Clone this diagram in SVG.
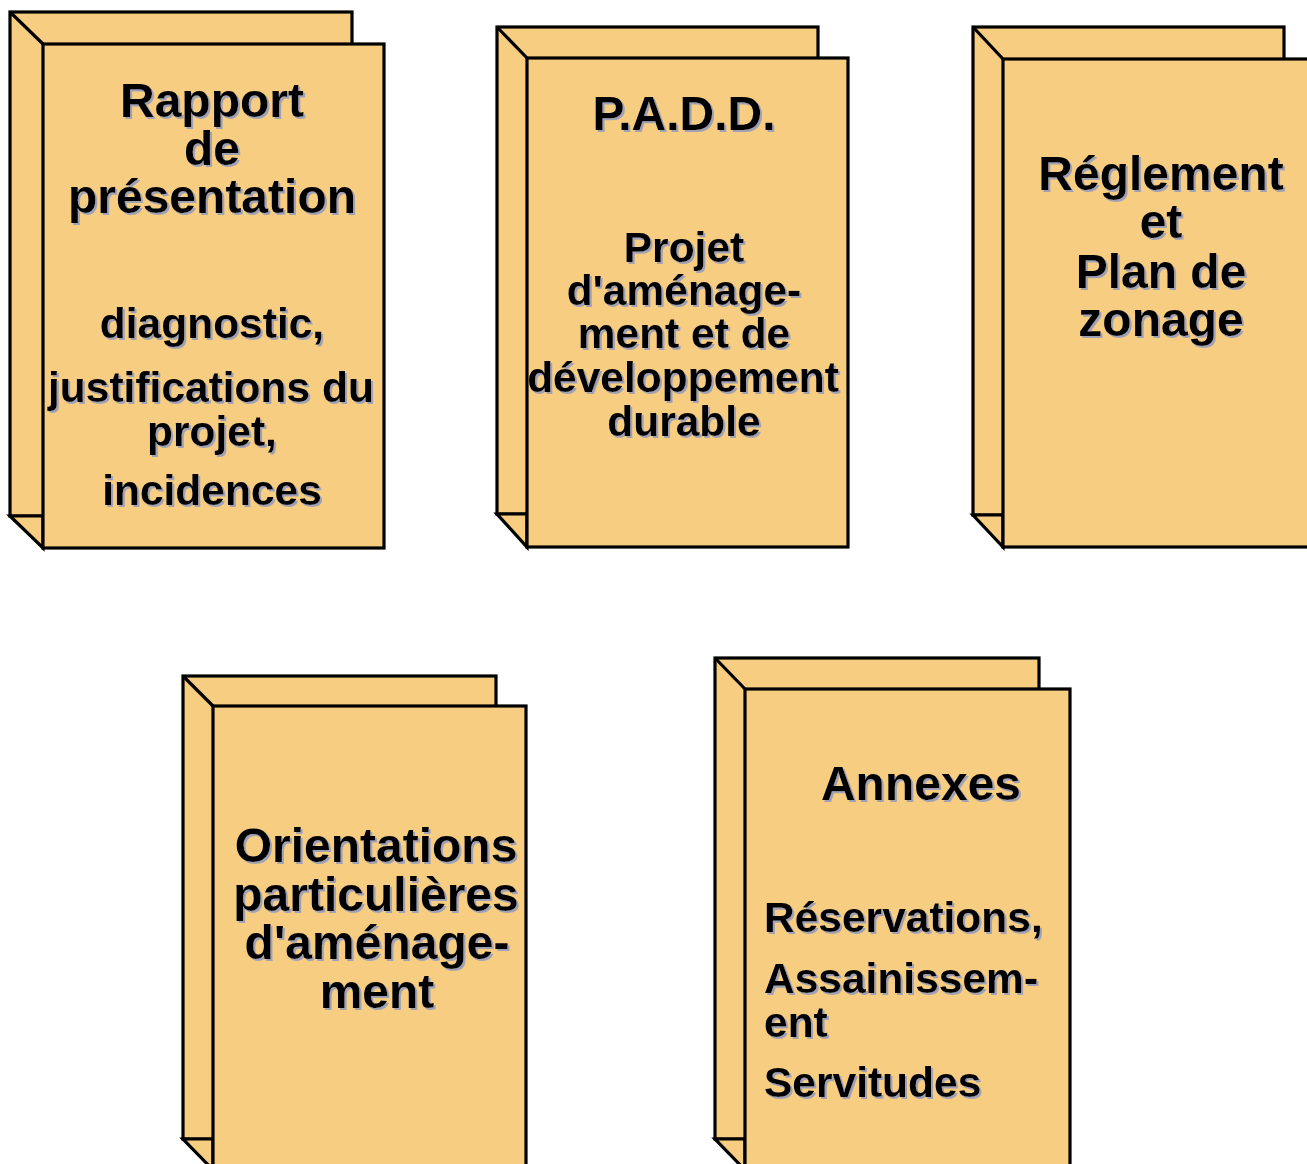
<svg xmlns="http://www.w3.org/2000/svg" width="1307" height="1164" viewBox="0 0 1307 1164">
<style>
.b{fill:#F7CD82;stroke:#000;stroke-width:3.2;stroke-linejoin:miter}
.l{stroke:#000;stroke-width:3.2;fill:none}
text{font-family:"Liberation Sans",Arial,sans-serif;font-weight:bold;fill:#000;filter:url(#sh)}
.big{font-size:48px}
.sm{font-size:42.5px}
.c{text-anchor:middle}
</style>
<defs>
<filter id="sh" x="-5%" y="-20%" width="115%" height="150%">
<feDropShadow dx="2" dy="2" stdDeviation="0.4" flood-color="#A0A2B4" flood-opacity="1"/>
</filter>
</defs>
<rect width="1307" height="1164" fill="#fff"/>
<g id="connectors"/>
<g id="rapport">
<rect class="b" x="10" y="12" width="342" height="504"/>
<polygon class="b" points="10,516 43,516 43,548"/>
<rect class="b" x="43" y="44" width="341" height="504"/>
<line class="l" x1="10" y1="12" x2="43" y2="44"/>
<text class="big c" x="212" y="117">Rapport</text>
<text class="big c" x="212" y="165">de</text>
<text class="big c" x="212" y="213">présentation</text>
<text class="sm c" x="212" y="338">diagnostic,</text>
<text class="sm c" x="211" y="402">justifications du</text>
<text class="sm c" x="212" y="446">projet,</text>
<text class="sm c" x="212" y="505">incidences</text>
</g>
<g id="padd">
<rect class="b" x="497" y="27" width="321" height="487"/>
<polygon class="b" points="497,514 527,514 527,547"/>
<rect class="b" x="527" y="58" width="321" height="489"/>
<line class="l" x1="497" y1="27" x2="527" y2="58"/>
<text class="big c" x="684" y="130">P.A.D.D.</text>
<text class="sm c" x="684" y="262">Projet</text>
<text class="sm c" x="684" y="305">d'aménage-</text>
<text class="sm c" x="684" y="348">ment et de</text>
<text class="sm c" x="683" y="392">développement</text>
<text class="sm c" x="684" y="436">durable</text>
</g>
<g id="reglement">
<rect class="b" x="973" y="27" width="311" height="488"/>
<polygon class="b" points="973,515 1003,515 1003,547"/>
<rect class="b" x="1003" y="59" width="320" height="488"/>
<line class="l" x1="973" y1="27" x2="1003" y2="59"/>
<text class="big c" x="1161" y="190">Réglement</text>
<text class="big c" x="1161" y="238">et</text>
<text class="big c" x="1161" y="288">Plan de</text>
<text class="big c" x="1161" y="336">zonage</text>
</g>
<g id="orientations">
<rect class="b" x="183" y="676" width="313" height="463"/>
<polygon class="b" points="183,1139 213,1139 213,1170"/>
<rect class="b" x="213" y="706" width="313" height="480"/>
<line class="l" x1="183" y1="676" x2="213" y2="706"/>
<text class="big c" x="376" y="862">Orientations</text>
<text class="big c" x="376" y="911">particulières</text>
<text class="big c" x="377" y="959">d'aménage-</text>
<text class="big c" x="377" y="1008">ment</text>
</g>
<g id="annexes">
<rect class="b" x="715" y="658" width="324" height="481"/>
<polygon class="b" points="715,1139 745,1139 745,1170"/>
<rect class="b" x="745" y="689" width="325" height="497"/>
<line class="l" x1="715" y1="658" x2="745" y2="689"/>
<text class="big c" x="921" y="800">Annexes</text>
<text class="sm" x="764" y="932">Réservations,</text>
<text class="sm" x="764" y="993">Assainissem-</text>
<text class="sm" x="764" y="1037">ent</text>
<text class="sm" x="764" y="1097">Servitudes</text>
</g>
</svg>
